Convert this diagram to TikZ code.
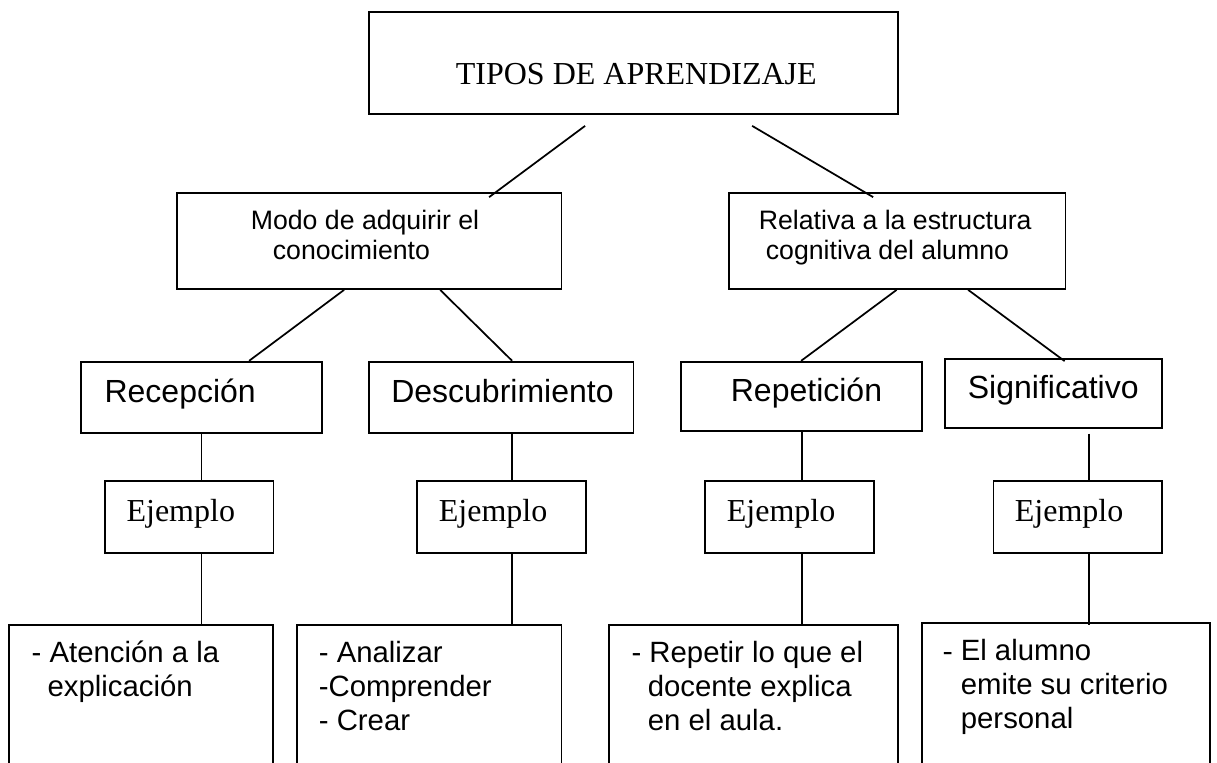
\documentclass[tikz,border=0pt]{standalone}
\usepackage{fontspec}
\setmainfont{Liberation Serif}
\setsansfont{Liberation Sans}
\usetikzlibrary{fit,calc}

\tikzset{every picture/.style={line width=1.3pt}}

\begin{document}
\begin{tikzpicture}[x=0.75pt,y=0.75pt,yscale=-1,xscale=1,
	caja/.style={draw, rectangle, inner sep=0pt},
	titulo/.style={anchor=base west, inner sep=0pt, font=\fontsize{24}{27.6}\selectfont},
	rama/.style={anchor=base west, inner sep=0pt, align=left, font=\sffamily\fontsize{20}{22.5}\selectfont},
	clase/.style={anchor=base west, inner sep=0pt, font=\sffamily\fontsize{24}{27.6}\selectfont},
	ejemplo/.style={anchor=base west, inner sep=0pt, font=\fontsize{24}{27.6}\selectfont},
	detalle/.style={anchor=base west, inner sep=0pt, align=left, font=\sffamily\fontsize{22}{25.5}\selectfont}]
	%set diagram to the size of the page
	\useasboundingbox (0,0) rectangle (1217,763);
	\fill [white] (0,0) rectangle (1217,763);
	\clip (0,0) rectangle (1217,763);
	
	%Shape: Rectangle [tipos]
	\node [caja, fit={(369,12.3) (898,114)}] (tipos) {};
	%Shape: Rectangle [modo]
	\node [caja, fit={(176.7,192.7) (561.5,289)}] (modo) {};
	%Shape: Rectangle [relativa]
	\node [caja, fit={(729,192.7) (1065.5,289)}] (relativa) {};
	%Shape: Rectangle [recepcion]
	\node [caja, fit={(81,361.7) (322,433.3)}] (rec) {};
	%Shape: Rectangle [descubrimiento]
	\node [caja, fit={(369,361.7) (633.5,433.3)}] (desc) {};
	%Shape: Rectangle [repeticion]
	\node [caja, fit={(681.3,361.7) (922.2,430.7)}] (rep) {};
	%Shape: Rectangle [significativo]
	\node [caja, fit={(945.3,359.3) (1162,428.3)}] (sig) {};
	%Shape: Rectangle [ejemplos]
	\node [caja, fit={(104.8,480.7) (273.6,553.3)}] (ej1) {};
	\node [caja, fit={(417,480.7) (586,553.3)}] (ej2) {};
	\node [caja, fit={(705,480.7) (874,553.3)}] (ej3) {};
	\node [caja, fit={(993.5,480.7) (1162,553.3)}] (ej4) {};
	%Shape: Rectangle [detalles, cut at the bottom]
	\node [caja, fit={(9,625) (272.8,790)}] (det1) {};
	\node [caja, fit={(297.3,625) (561.5,790)}] (det2) {};
	\node [caja, fit={(609,625) (898,790)}] (det3) {};
	\node [caja, fit={(921.9,622.7) (1210,790)}] (det4) {};
	
	%Straight Lines [tipos -> modo, relativa]
	\draw ($(tipos.south west)+(217,11)$) -- ($(modo.north west)+(313.3,5.3)$);
	\draw ($(tipos.south west)+(384,11)$) -- ($(relativa.north west)+(145,5.3)$);
	%Straight Lines [modo -> recepcion, descubrimiento]
	\draw ($(modo.south west)+(168.3,0)$) -- ($(rec.north west)+(169,0)$);
	\draw ($(modo.south west)+(264.3,0)$) -- ($(desc.north west)+(144,0)$);
	%Straight Lines [relativa -> repeticion, significativo]
	\draw ($(relativa.south west)+(168.5,0)$) -- ($(rep.north west)+(120.7,0)$);
	\draw ($(relativa.south west)+(240,0)$) -- ($(sig.north west)+(120.2,2.7)$);
	%Straight Lines [verticales]
	\coordinate (xdesc) at ($(desc.south west)+(144,0)$);
	\coordinate (xsig) at ($(sig.south west)+(144.7,4.4)$);
	\draw (rec.south) -- (rec.south |- ej1.north);
	\draw (rec.south |- ej1.south) -- (rec.south |- det1.north);
	\draw (xdesc) -- (xdesc |- ej2.north);
	\draw (xdesc |- ej2.south) -- (xdesc |- det2.north);
	\draw (rep.south) -- (rep.south |- ej3.north);
	\draw (rep.south |- ej3.south) -- (rep.south |- det3.north);
	\draw (xsig) -- (xsig |- ej4.north);
	\draw (xsig |- ej4.south) -- ($(xsig |- det4.north)+(0,3.3)$);
	
	% Text Node
	\node [titulo] (t-tipos) at (455,85) {TIPOS DE APRENDIZAJE};
	% Text Node (base = last line)
	\node [rama] (t-modo) at (250,259) {Modo de adquirir el\\\hspace*{16.5pt}conocimiento};
	% Text Node
	\node [rama] (t-relativa) at (758,259) {Relativa a la estructura\\\hspace*{5.25pt}cognitiva del alumno};
	% Text Node
	\node [clase] (t-rec) at (103.7,402.7) {Recepción};
	\node [clase] (t-desc) at (390.4,402.7) {Descubrimiento};
	\node [clase] (t-rep) at (730,401.7) {Repetición};
	\node [clase] (t-sig) at (967,398.3) {Significativo};
	% Text Node
	\node [ejemplo] (t-ej1) at (125.7,521.7) {Ejemplo};
	\node [ejemplo] (t-ej2) at (438,521.7) {Ejemplo};
	\node [ejemplo] (t-ej3) at (726,521.7) {Ejemplo};
	\node [ejemplo] (t-ej4) at (1014,521.7) {Ejemplo};
	% Text Node (base = last line)
	\node [detalle] (t-det1) at (30.8,696) {- Atención a la\\\hspace*{12pt}explicación};
	\node [detalle] (t-det2) at (318,730.7) {- Analizar\\-Comprender\\- Crear};
	\node [detalle] (t-det3) at (630.7,730) {- Repetir lo que el\\\hspace*{12.2pt}docente explica\\\hspace*{12.2pt}en el aula.};
	\node [detalle] (t-det4) at (942,728.3) {{\rmfamily -} El alumno\\\hspace*{13.5pt}emite su criterio\\\hspace*{13.5pt}personal};
	
\end{tikzpicture}
\end{document}
